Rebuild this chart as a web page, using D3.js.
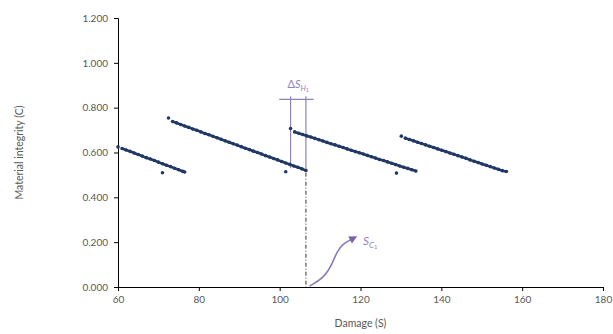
<!doctype html>
<html>
<head>
<meta charset="utf-8">
<script src="https://d3js.org/d3.v7.min.js"></script>
<style>
  body { margin: 0; background: #fff; }
  text { font-family: Lato, "Open Sans", sans-serif; }
</style>
</head>
<body>
<svg width="613" height="334"></svg>
<script>
    // damage (S) and material integrity (C), one pair of arrays per cycle
    var seg1S = [60, 61, 62, 63, 64, 65, 66, 67, 68, 69, 70, 71, 72, 73, 74, 75, 76, 76.5];
    var seg1C = [0.625, 0.618, 0.611, 0.605, 0.598, 0.591, 0.584, 0.577, 0.571, 0.564, 0.557, 0.550, 0.543, 0.537, 0.530, 0.523, 0.516, 0.513];

    var seg2S = [72.5, 73.5, 74.5, 75.5, 76.5, 77.5, 78.5, 79.5, 80.5, 81.5, 82.5, 83.5, 84.5, 85.5, 86.5, 87.5, 88.5, 89.5,
                 90.5, 91.5, 92.5, 93.5, 94.5, 95.5, 96.5, 97.5, 98.5, 99.5, 100.5, 101.5, 102.5, 103.5, 104.5, 105.5, 106.5];
    var seg2C = [0.754, 0.738, 0.732, 0.725, 0.718, 0.712, 0.705, 0.699, 0.692, 0.685, 0.679, 0.672, 0.666, 0.659, 0.652, 0.646, 0.639, 0.633,
                 0.626, 0.619, 0.613, 0.606, 0.600, 0.593, 0.586, 0.580, 0.573, 0.567, 0.560, 0.553, 0.547, 0.540, 0.534, 0.527, 0.520];

    var seg3S = [102.7, 103.7, 104.7, 105.7, 106.7, 107.7, 108.7, 109.7, 110.7, 111.7, 112.7, 113.7, 114.7, 115.7, 116.7, 117.7,
                 118.7, 119.7, 120.7, 121.7, 122.7, 123.7, 124.7, 125.7, 126.7, 127.7, 128.7, 129.7, 130.7, 131.7, 132.7, 133.7];
    var seg3C = [0.707, 0.692, 0.686, 0.680, 0.674, 0.669, 0.663, 0.657, 0.651, 0.645, 0.639, 0.634, 0.628, 0.622, 0.616, 0.610,
                 0.604, 0.599, 0.593, 0.587, 0.581, 0.575, 0.569, 0.564, 0.558, 0.552, 0.546, 0.540, 0.534, 0.529, 0.523, 0.517];

    var seg4S = [130.1, 131.1, 132.1, 133.1, 134.1, 135.1, 136.1, 137.1, 138.1, 139.1, 140.1, 141.1, 142.1, 143.1,
                 144.1, 145.1, 146.1, 147.1, 148.1, 149.1, 150.1, 151.1, 152.1, 153.1, 154.1, 155.1, 156.1];
    var seg4C = [0.673, 0.664, 0.658, 0.652, 0.646, 0.640, 0.634, 0.628, 0.622, 0.616, 0.610, 0.604, 0.598, 0.592,
                 0.586, 0.580, 0.574, 0.567, 0.561, 0.555, 0.549, 0.543, 0.537, 0.531, 0.525, 0.519, 0.515];

    // stray points under each drop
    var looseS = [71.0, 101.5, 128.9];
    var looseC = [0.510, 0.514, 0.508];

    var xTicks = [60, 80, 100, 120, 140, 160, 180];
    var yTicks = [0, 0.2, 0.4, 0.6, 0.8, 1.0, 1.2];

    // annotation: healing interval and critical damage
    var healS = [102.7, 106.5];
    var healBottomC = [0.530, 0.517];
    var healTopC = 0.837;
    var healBarS = [99.9, 108.4];
    var critS = 106.5;
    var critTopC = 0.510;
    var arrowS = [107.4, 111.2, 113.2, 114.1, 115.7, 117.6];
    var arrowC = [0.004, 0.044, 0.111, 0.156, 0.193, 0.211];

    var svg = d3.select("svg"),
        margin = {top: 18, right: 10, bottom: 47, left: 118},
        width = 613 - margin.left - margin.right,
        height = 334 - margin.top - margin.bottom;

    var x = d3.scaleLinear().domain([60, 180]).range([0, width]),
        y = d3.scaleLinear().domain([0, 1.2]).range([height, 0]);

    var g = svg.append("g")
               .attr("transform", "translate(" + margin.left + "," + margin.top + ")");

    var xAxis = g.append("g")
     .attr("transform", "translate(0," + height + ")")
     .call(d3.axisBottom(x).tickValues(xTicks).tickSize(4).tickPadding(5).tickFormat(d3.format("d")));

    var yAxis = g.append("g")
     .call(d3.axisLeft(y).tickValues(yTicks).tickSize(4).tickPadding(6).tickFormat(d3.format(".3f")));

    [xAxis, yAxis].forEach(function(a) {
        a.select(".domain").attr("stroke", "#000");
        a.selectAll(".tick line").attr("stroke", "#000");
        a.selectAll("text").attr("fill", "#595959").attr("font-size", "10px")
         .attr("font-family", "Lato, 'Open Sans', sans-serif");
    });

    svg.append("text")
       .attr("x", margin.left + x(120))
       .attr("y", 327)
       .attr("text-anchor", "middle")
       .attr("fill", "#595959")
       .attr("font-size", "10.5px")
       .text("Damage (S)");

    svg.append("text")
       .attr("transform", "translate(23," + (margin.top + y(0.6)) + ") rotate(-90)")
       .attr("text-anchor", "middle")
       .attr("fill", "#595959")
       .attr("font-size", "10.5px")
       .text("Material integrity (C)");

    // annotation lines (drawn under the dots)
    var purple = "#8c84b4";
    g.selectAll(".heal")
     .data(healS)
     .enter().append("line")
     .attr("x1", function(d) { return x(d); })
     .attr("x2", function(d) { return x(d); })
     .attr("y1", y(healTopC) - 3)
     .attr("y2", function(d, i) { return y(healBottomC[i]); })
     .attr("stroke", purple)
     .attr("stroke-width", 1.2);

    g.append("line")
     .attr("x1", x(healBarS[0])).attr("x2", x(healBarS[1]))
     .attr("y1", y(healTopC)).attr("y2", y(healTopC))
     .attr("stroke", purple)
     .attr("stroke-width", 1.2);

    var lab = g.append("text")
     .attr("x", x((healS[0] + healS[1]) / 2))
     .attr("y", y(healTopC) - 11)
     .attr("text-anchor", "middle")
     .attr("fill", "#9283c0")
     .attr("font-size", "11px");
    lab.append("tspan").text("Δ");
    lab.append("tspan").attr("font-style", "italic").text("S");
    lab.append("tspan").attr("font-style", "italic").attr("font-size", "7.5px").attr("dy", 2.5).text("H");
    lab.append("tspan").attr("font-size", "5.5px").attr("dy", 1.5).text("1");

    g.append("line")
     .attr("x1", x(critS)).attr("x2", x(critS))
     .attr("y1", y(critTopC)).attr("y2", y(0))
     .attr("stroke", "#333")
     .attr("stroke-width", 1)
     .attr("stroke-dasharray", "4,2,1,2");

    svg.append("defs").append("marker")
       .attr("id", "arrow")
       .attr("viewBox", "0 0 10 10")
       .attr("refX", 1).attr("refY", 5)
       .attr("markerWidth", 5.5).attr("markerHeight", 5)
       .attr("orient", "auto")
       .append("path")
       .attr("d", "M0,0 L10,5 L0,10 Z")
       .attr("fill", "#7a62ad");

    var arrowPts = arrowS.map(function(s, i) { return [x(s), y(arrowC[i])]; });
    g.append("path")
     .attr("d", d3.line().curve(d3.curveBasis)(arrowPts))
     .attr("fill", "none")
     .attr("stroke", "#8c7bb8")
     .attr("stroke-width", 1.6)
     .attr("marker-end", "url(#arrow)");

    var sc = g.append("text")
     .attr("x", x(120.6))
     .attr("y", y(0.205) + 4)
     .attr("fill", "#9283c0")
     .attr("font-size", "12px");
    sc.append("tspan").attr("font-style", "italic").text("S");
    sc.append("tspan").attr("font-style", "italic").attr("font-size", "8px").attr("dy", 2.5).text("C");
    sc.append("tspan").attr("font-size", "6px").attr("dy", 1.5).text("1");

    // data points: a thin trace under small dots gives the dense look
    var segs = [[seg1S, seg1C], [seg2S, seg2C], [seg3S, seg3C], [seg4S, seg4C]];
    var line = d3.line().x(function(d) { return x(d.s); }).y(function(d) { return y(d.c); });
    segs.forEach(function(sg) {
        var pts = sg[0].map(function(s, i) { return {s: s, c: sg[1][i]}; });
        g.append("path")
         .datum(pts.slice(1))
         .attr("d", line)
         .attr("fill", "none")
         .attr("stroke", "#22386a")
         .attr("stroke-width", 2.6);
        g.append("g").selectAll("circle")
         .data(pts)
         .enter().append("circle")
         .attr("cx", function(d) { return x(d.s); })
         .attr("cy", function(d) { return y(d.c); })
         .attr("r", 1.8)
         .attr("fill", "#1f3864");
    });

    g.append("g").selectAll("circle")
     .data(looseS.map(function(s, i) { return {s: s, c: looseC[i]}; }))
     .enter().append("circle")
     .attr("cx", function(d) { return x(d.s); })
     .attr("cy", function(d) { return y(d.c); })
     .attr("r", 1.8)
     .attr("fill", "#1f3864");
</script>
</body>
</html>
